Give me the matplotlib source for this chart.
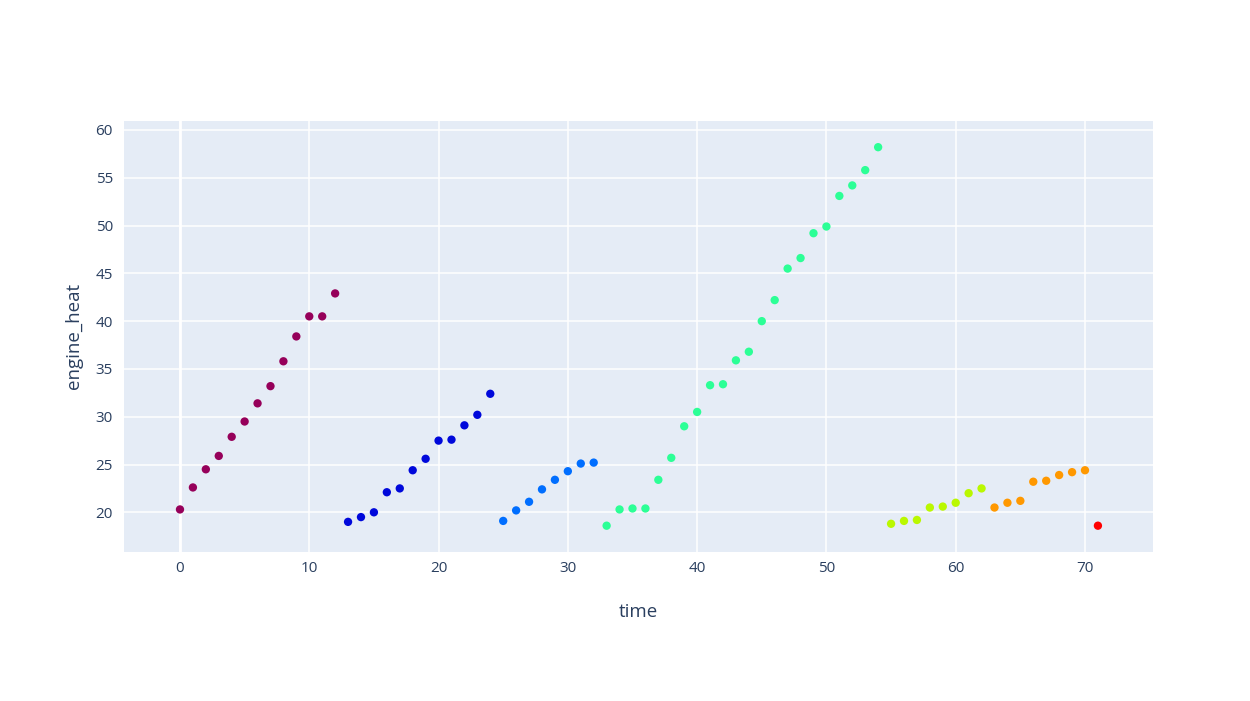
import numpy as np
import matplotlib
matplotlib.use("Agg")
from matplotlib import pyplot as plt

# engine_heat readings per time step, split by cluster
time = np.arange(0, 72)
engine_heat = [
    20.3, 22.6, 24.5, 25.9, 27.9, 29.5, 31.4, 33.2, 35.8, 38.4, 40.5, 40.5, 42.9,   # 0-12
    19.0, 19.5, 20.0, 22.1, 22.5, 24.4, 25.6, 27.5, 27.6, 29.1, 30.2, 32.4,         # 13-24
    19.1, 20.2, 21.1, 22.4, 23.4, 24.3, 25.1, 25.2,                                 # 25-32
    18.6, 20.3, 20.4, 20.4, 23.4, 25.7, 29.0, 30.5, 33.3, 33.4, 35.9, 36.8,
    40.0, 42.2, 45.5, 46.6, 49.2, 49.9, 53.1, 54.2, 55.8, 58.2,                     # 33-54
    18.8, 19.1, 19.2, 20.5, 20.6, 21.0, 22.0, 22.5,                                 # 55-62
    20.5, 21.0, 21.2, 23.2, 23.3, 23.9, 24.2, 24.4,                                 # 63-70
    18.6,                                                                           # 71
]
cluster = [0]*13 + [1]*12 + [2]*8 + [3]*22 + [4]*8 + [5]*8 + [6]*1
cluster_colors = ['#96005a', '#0008db', '#006eff', '#2cff96', '#baf800', '#ff9800', '#ff0000']

plt.rcParams['font.family'] = ['Open Sans', 'DejaVu Sans']
fig = plt.figure(figsize=(12.5, 7.01), dpi=100)
ax = fig.add_axes([0.0992, 0.213, 0.8232, 0.6144])
ax.set_facecolor('#E5ECF6')

cols = [cluster_colors[c] for c in cluster]
ax.scatter(time, engine_heat, c=cols, s=36, linewidths=0, zorder=3)

ax.set_xlim(-4.33, 75.26)
ax.set_ylim(15.88, 60.94)
ax.set_xticks(np.arange(0, 71, 10))
ax.set_yticks(np.arange(20, 61, 5))
ax.grid(True, color='white', linewidth=1.1, zorder=0)
ax.set_axisbelow(True)
ax.axvline(0, color='white', linewidth=2, zorder=1)
for s in ax.spines.values():
    s.set_visible(False)
ax.tick_params(length=0, colors='#2a3f5f', labelsize=11, pad=7)
ax.tick_params(axis='y', pad=8)

ax.set_xlabel('time', color='#2a3f5f', fontsize=13.5, labelpad=19)
ax.set_ylabel('engine_heat', color='#2a3f5f', fontsize=13.5, labelpad=9)

fig.savefig('out.png', dpi=100)
